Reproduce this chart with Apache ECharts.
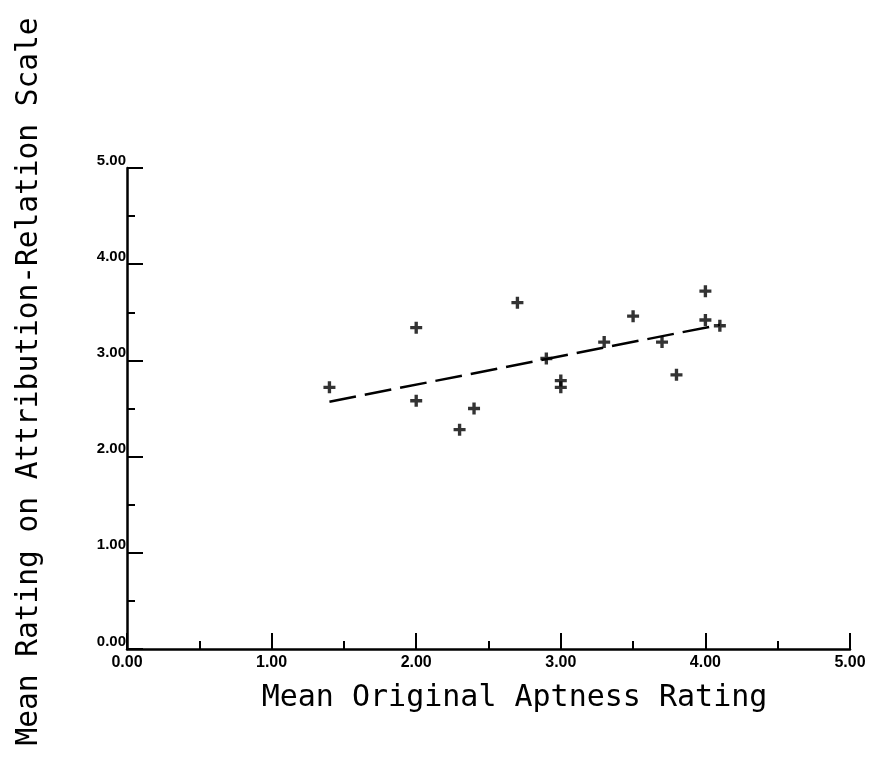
<!DOCTYPE html>
<html>
<head>
<meta charset="utf-8">
<script src="https://cdn.jsdelivr.net/npm/echarts@6/dist/echarts.min.js"></script>
<style>
  html, body { margin: 0; padding: 0; background: #fff; }
  #chart { width: 869px; height: 759px; }
</style>
</head>
<body>
<div id="chart"></div>
<script>
// ratings
var aptness = [1.4, 2.0, 2.0, 2.3, 2.4, 2.7, 2.9, 3.0, 3.0, 3.3, 3.5, 3.7, 3.8, 4.0, 4.0, 4.1];
var attribution = [2.72, 3.34, 2.58, 2.28, 2.50, 3.60, 3.02, 2.79, 2.72, 3.19, 3.46, 3.19, 2.85, 3.72, 3.42, 3.36];
// fitted line end points
var fitX = [1.4, 4.1];
var fitY = [2.57, 3.37];

var plus = 'path://M3.6,0H6.4V3.6H10V6.4H6.4V10H3.6V6.4H0V3.6H3.6Z';

var chart = echarts.init(document.getElementById('chart'));

function axisCommon() {
    return {
        type: 'value',
        min: 0,
        max: 5,
        interval: 1,
        axisLine: { lineStyle: { color: '#000', width: 2.5 } },
        axisTick: { inside: true, length: 16, lineStyle: { color: '#000', width: 2 } },
        minorTick: { show: true, splitNumber: 2, length: 8, lineStyle: { color: '#000', width: 2 } },
        splitLine: { show: false },
        minorSplitLine: { show: false },
        axisLabel: {
            color: '#000',
            fontFamily: 'Liberation Sans',
            fontWeight: 'bold',
            fontSize: 16,
            formatter: function (v) { return v.toFixed(2); }
        },
        nameTextStyle: {
            color: '#000',
            fontFamily: 'DejaVu Sans Mono'
        }
    };
}

var xAxis = axisCommon();
xAxis.name = 'Mean Original Aptness Rating';
xAxis.nameLocation = 'middle';
xAxis.nameGap = 34;
xAxis.nameTextStyle.fontSize = 30;
xAxis.nameTextStyle.padding = [0, 0, 0, 52];
xAxis.axisLabel.margin = 6;

var yAxis = axisCommon();
yAxis.name = 'Mean Rating on Attribution-Relation Scale';
yAxis.nameLocation = 'middle';
yAxis.nameGap = 83;
yAxis.nameTextStyle.fontSize = 29.5;
yAxis.nameTextStyle.padding = [0, 0, 0, 54];
yAxis.axisLabel.margin = 1;
yAxis.axisLabel.verticalAlign = 'bottom';
yAxis.axisLabel.fontSize = 15;

var pts = aptness.map(function (x, i) { return [x, attribution[i]]; });
var fit = fitX.map(function (x, i) { return [x, fitY[i]]; });

chart.setOption({
    animation: false,
    backgroundColor: '#fff',
    grid: { left: 127, right: 19, top: 168, bottom: 110, containLabel: false, outerBoundsMode: 'none' },
    xAxis: xAxis,
    yAxis: yAxis,
    series: [{
        type: 'line',
        data: fit,
        symbol: 'none',
        lineStyle: { color: '#000', width: 2.5, type: [27, 9] }
    }, {
        type: 'scatter',
        data: pts,
        symbol: plus,
        symbolSize: 12,
        itemStyle: { color: '#000' }
    }]
});
</script>
</body>
</html>
